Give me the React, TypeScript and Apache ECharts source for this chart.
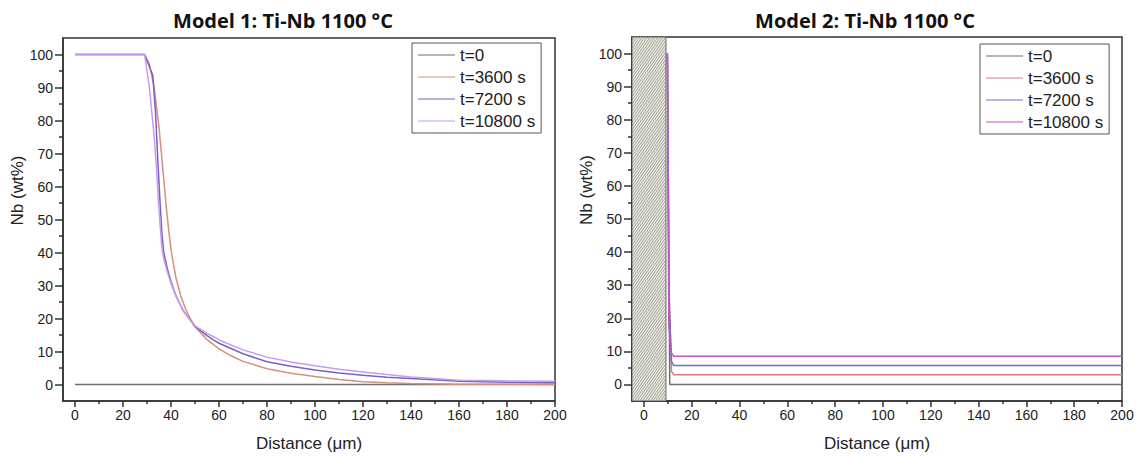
import React, { useEffect, useRef } from "react";
import * as echarts from "echarts";

// ---------- data ----------
const seriesNames = ["t=0", "t=3600 s", "t=7200 s", "t=10800 s"];

// Model 1 (distance µm, Nb wt%)
const m1_t0: number[][] = [[0, 0], [200, 0]];
const m1_t3600: number[][] = [
  [0, 100], [29, 100], [31, 97], [33, 90], [35, 78], [36, 70], [37, 62], [38, 54], [39, 47],
  [40, 41], [41, 36.5], [42, 32.5], [44, 27], [46, 23], [48, 20], [50, 17.5], [55, 13.6],
  [60, 10.8], [65, 8.7], [70, 7.0], [80, 4.8], [90, 3.4], [100, 2.4], [110, 1.5], [120, 0.8],
  [130, 0.5], [140, 0.3], [160, 0.1], [180, 0.05], [200, 0.02],
];
const m1_t7200: number[][] = [
  [0, 100], [29, 100], [32.4, 93.7], [33.5, 83], [34.5, 68], [35.3, 57], [36.2, 46], [37, 40],
  [38.5, 35], [40.3, 30.5], [42, 27], [45, 22.5], [48, 19.5], [50, 17.6], [55, 14.8], [58, 13.4],
  [60, 12.5], [70, 9.3], [80, 6.9], [90, 5.5], [100, 4.4], [110, 3.5], [120, 2.8], [130, 2.2],
  [140, 1.8], [160, 1.0], [180, 0.7], [200, 0.5],
];
const m1_t10800: number[][] = [
  [0, 100], [29, 100], [31, 90], [33, 75], [34, 65], [34.7, 56], [35.5, 48], [36.1, 42], [37, 38],
  [38.5, 34], [40.3, 30], [42, 27], [45, 22.5], [48, 19.5], [50, 17.8], [55, 15.5], [58, 14.4],
  [60, 13.5], [70, 10.5], [80, 8.3], [90, 6.8], [100, 5.7], [110, 4.6], [120, 3.8], [130, 3.0],
  [140, 2.3], [160, 1.3], [180, 1.1], [200, 1.0],
];

// Model 2
const m2_t0: number[][] = [[9.8, 100], [10.8, 0], [200, 0]];
const m2_t3600: number[][] = [[9.8, 100], [10.5, 30], [11.5, 4], [12.5, 2.9], [200, 2.9]];
const m2_t7200: number[][] = [[9.8, 100], [10.5, 25], [11.5, 7], [12.5, 5.7], [200, 5.7]];
const m2_t10800: number[][] = [[9.8, 100], [10.4, 18], [11.5, 9.5], [12.5, 8.5], [200, 8.5]];

// hatched region in model 2 [xStart, xEnd, yTop, yBottom]
const hatchRegion: number[][] = [[-5, 9.2, 105, -5]];

const xMajorTicks = [0, 20, 40, 60, 80, 100, 120, 140, 160, 180, 200];
const xMinorTicks = [10, 30, 50, 70, 90, 110, 130, 150, 170, 190];
const yMajorTicks = [0, 10, 20, 30, 40, 50, 60, 70, 80, 90, 100];
const yMinorTicks = [5, 15, 25, 35, 45, 55, 65, 75, 85, 95];

const titles = ["Model 1: Ti-Nb 1100 °C", "Model 2: Ti-Nb 1100 °C"];
const xName = "Distance (μm)";
const yName = "Nb (wt%)";

const colors1 = ["#6e6e6e", "#d4917e", "#7b62b8", "#c89af0"];
const colors2 = ["#6e6e6e", "#d67c84", "#6f6fc2", "#c455c9"];

const FONT = "Liberation Sans, Arial, sans-serif";

function xAxes(grid: number, nameGap: number) {
  return [
    {
      type: "value", gridIndex: grid, min: -5, max: 200, position: "bottom",
      axisLine: { show: true, onZero: false, lineStyle: { color: "#333", width: 1.5 } },
      axisTick: { show: true, length: 6, customValues: xMajorTicks, lineStyle: { color: "#333", width: 1.5 } },
      axisLabel: { customValues: xMajorTicks, fontSize: 14, color: "#222", fontFamily: FONT, margin: 7 },
      splitLine: { show: false },
      name: xName, nameLocation: "middle", nameGap,
      nameTextStyle: { fontSize: 17, color: "#222", fontFamily: FONT },
    },
    {
      type: "value", gridIndex: grid, min: -5, max: 200, position: "bottom",
      axisLine: { show: false, onZero: false },
      axisTick: { show: true, length: 3, customValues: xMinorTicks, lineStyle: { color: "#333", width: 1.5 } },
      axisLabel: { show: false },
      splitLine: { show: false },
    },
  ];
}

function yAxes(grid: number, nameGap: number) {
  return [
    {
      type: "value", gridIndex: grid, min: -5, max: 105, position: "left",
      axisLine: { show: true, onZero: false, lineStyle: { color: "#333", width: 1.5 } },
      axisTick: { show: true, length: 8, customValues: yMajorTicks, lineStyle: { color: "#333", width: 1.5 } },
      axisLabel: { customValues: yMajorTicks, fontSize: 14, color: "#222", fontFamily: FONT, margin: 10 },
      splitLine: { show: false },
      name: yName, nameLocation: "middle", nameGap,
      nameTextStyle: { fontSize: 17, color: "#222", fontFamily: FONT, padding: [0, 0, 0, 58] },
    },
    {
      type: "value", gridIndex: grid, min: -5, max: 105, position: "left",
      axisLine: { show: false, onZero: false },
      axisTick: { show: true, length: 4, customValues: yMinorTicks, lineStyle: { color: "#333", width: 1.5 } },
      axisLabel: { show: false },
      splitLine: { show: false },
    },
  ];
}

function legendCfg(left: number, top: number, colors: string[]) {
  return {
    orient: "vertical", left, top,
    padding: [3, 6, 3, 6], itemGap: 4, itemWidth: 37, itemHeight: 1.2,
    icon: "rect",
    borderColor: "#555", borderWidth: 1, backgroundColor: "#fff",
    textStyle: { fontSize: 17, color: "#222", fontFamily: FONT, lineHeight: 18 },
    selectedMode: false,
    data: seriesNames.map((n, i) => ({
      name: n, itemStyle: { color: colors[i] },
    })),
  };
}

function lineSeries(name: string, data: number[][], color: string, axis: number) {
  return {
    type: "line", name, data, xAxisIndex: axis, yAxisIndex: axis,
    symbol: "none", smooth: false, clip: true,
    lineStyle: { color, width: 1.5 }, itemStyle: { color },
  };
}

export default function App() {
  const ref = useRef<HTMLDivElement>(null);
  useEffect(() => {
    if (!ref.current) return;
    const chart = echarts.init(ref.current, null, { renderer: "svg" });
    const option: any = {
      animation: false,
      backgroundColor: "#fff",
      grid: [
        { left: 63, top: 38, width: 492, height: 364, show: true, borderColor: "#333", borderWidth: 1.5, backgroundColor: "transparent" },
        { left: 632, top: 37, width: 490, height: 365, show: true, borderColor: "#333", borderWidth: 1.5, backgroundColor: "transparent" },
      ],
      xAxis: [...xAxes(0, 34), ...xAxes(1, 34)],
      yAxis: [...yAxes(0, 36), ...yAxes(1, 36)],
      legend: [legendCfg(412, 43, colors1), legendCfg(980, 44, colors2)],
      graphic: [
        { type: "text", x: 283, y: 20, style: { text: titles[0], font: "bold 20px 'Open Sans', sans-serif", fill: "#111", textAlign: "center", textVerticalAlign: "middle" } },
        { type: "text", x: 865, y: 20, style: { text: titles[1], font: "bold 20px 'Open Sans', sans-serif", fill: "#111", textAlign: "center", textVerticalAlign: "middle" } },
      ],
      series: [
        {
          type: "custom", name: "hatch", xAxisIndex: 2, yAxisIndex: 2, data: hatchRegion,
          encode: { x: [0, 1], y: [2, 3] }, clip: true, z: 1,
          renderItem: (params: any, api: any) => {
            const p0 = api.coord([api.value(0), api.value(2)]);
            const p1 = api.coord([api.value(1), api.value(3)]);
            const L = p0[0], T = p0[1], R = p1[0], B = p1[1];
            const children: any[] = [
              { type: "rect", shape: { x: L, y: T, width: R - L, height: B - T }, style: { fill: "#efeee2", stroke: "#666", lineWidth: 1 } },
            ];
            const a = 0.7, d = 2.6;
            for (let c = L + a * T; c <= R + a * B; c += d) {
              const y1 = (c - R) / a, y2 = (c - L) / a;
              const yMin = Math.max(T, Math.min(y1, y2));
              const yMax = Math.min(B, Math.max(y1, y2));
              if (yMin < yMax) {
                children.push({
                  type: "line",
                  shape: { x1: c - a * yMin, y1: yMin, x2: c - a * yMax, y2: yMax },
                  style: { stroke: "#666", lineWidth: 0.6 },
                });
              }
            }
            return { type: "group", children };
          },
        },
        lineSeries(seriesNames[0], m1_t0, colors1[0], 0),
        lineSeries(seriesNames[1], m1_t3600, colors1[1], 0),
        lineSeries(seriesNames[2], m1_t7200, colors1[2], 0),
        lineSeries(seriesNames[3], m1_t10800, colors1[3], 0),
        lineSeries(seriesNames[0], m2_t0, colors2[0], 2),
        lineSeries(seriesNames[1], m2_t3600, colors2[1], 2),
        lineSeries(seriesNames[2], m2_t7200, colors2[2], 2),
        lineSeries(seriesNames[3], m2_t10800, colors2[3], 2),
      ],
    };
    chart.setOption(option);
    return () => chart.dispose();
  }, []);
  return <div ref={ref} style={{ position: "fixed", left: 0, top: 0, width: 1138, height: 457 }} />;
}
